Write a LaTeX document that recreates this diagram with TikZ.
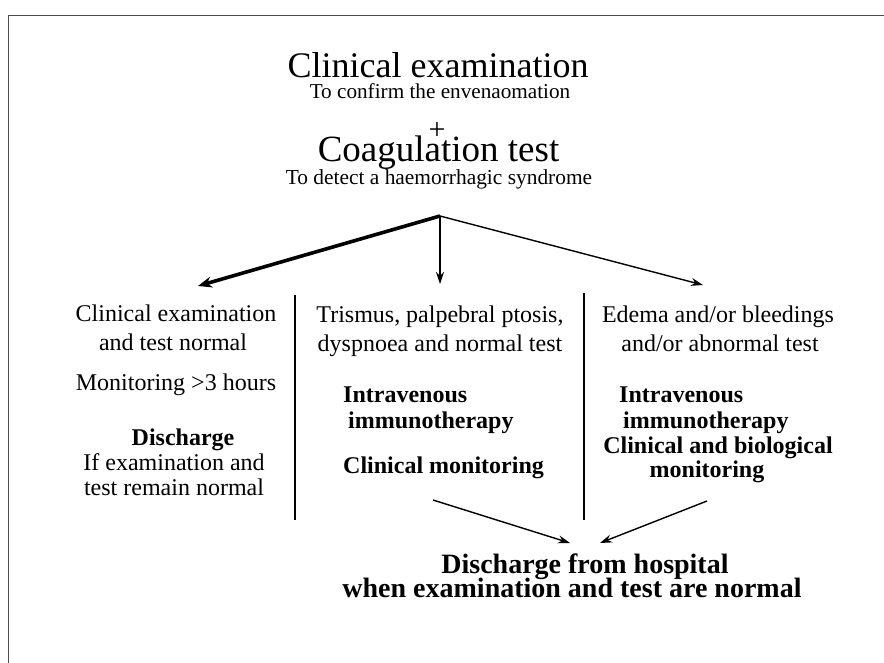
\documentclass[tikz,border=0pt]{standalone}
\usepackage{fontspec}
\setmainfont{Liberation Serif}
\usetikzlibrary{arrows.meta}
\begin{document}
\begin{tikzpicture}[x=1pt,y=-1pt,
  txt/.style={inner sep=0pt,anchor=base,font=\fontsize{24}{28}\selectfont},
  btxt/.style={inner sep=0pt,anchor=base west,font=\fontsize{24}{28}\selectfont\bfseries},
  bctxt/.style={inner sep=0pt,anchor=base,font=\fontsize{24}{28}\selectfont\bfseries},
  big/.style={inner sep=0pt,anchor=base,font=\fontsize{36}{40}\selectfont},
  sub/.style={inner sep=0pt,anchor=base,font=\fontsize{21.2}{24}\selectfont},
  fin/.style={inner sep=0pt,anchor=base,font=\fontsize{28}{32}\selectfont\bfseries},
  arr/.style={-{Stealth[length=12pt,width=8pt]},line width=1.4pt},
  thickarr/.style={-{Stealth[length=14pt,width=11pt]},line width=3.6pt},
  divider/.style={line width=1.4pt},
  frame/.style={line width=0.8pt,black!70}]
\useasboundingbox (0,0) rectangle (884,663);
\fill[white] (0,0) rectangle (884,663);
% frame (only top and left edges visible)
\coordinate (fa) at (884,15);
\coordinate (fb) at (8,15);
\coordinate (fc) at (8,663);
\draw[frame] (fa) -- (fb) -- (fc);
% header
\node[big] (t1) at (438,78) {Clinical examination};
\node[sub] (s1) at (440,98.5) {To confirm the envenaomation};
\node[inner sep=0pt,font=\fontsize{30}{32}\selectfont] (plus) at (437,131) {+};
\node[big,font=\fontsize{37}{40}\selectfont] (t2) at (438.5,162) {Coagulation test};
\node[sub,font=\fontsize{21.4}{24}\selectfont] (s2) at (439,185) {To detect a haemorrhagic syndrome};
% branching arrows
\coordinate (apex) at (440,216);
\coordinate (tl) at (198,286);
\coordinate (tm) at (440,284);
\coordinate (tr) at (703,285);
\draw[thickarr] (apex) -- (tl);
\draw[arr] (apex) -- (tm);
\draw[arr] (apex) -- (tr);
% left column
\node[txt] (l1) at (176,321) {Clinical examination};
\node[txt] (l2) at (173,350) {and test normal};
\node[txt] (l3) at (176,390) {Monitoring >3 hours};
\node[bctxt] (l4) at (183,445) {Discharge};
\node[txt] (l5) at (174,470) {If examination and};
\node[txt] (l6) at (174,495) {test remain normal};
% dividers
\coordinate (d1a) at (295,295);
\coordinate (d1b) at (295,520);
\coordinate (d2a) at (584,293);
\coordinate (d2b) at (584,520);
\draw[divider] (d1a) -- (d1b);
\draw[divider] (d2a) -- (d2b);
% middle column
\node[txt] (m1) at (440,322) {Trismus, palpebral ptosis,};
\node[txt] (m2) at (440,351) {dyspnoea and normal test};
\node[btxt] (m3) at (343,402) {Intravenous};
\node[btxt] (m4) at (348,428) {immunotherapy};
\node[btxt] (m5) at (343,473) {Clinical monitoring};
% right column
\node[txt] (r1) at (718,322) {Edema and/or bleedings};
\node[txt] (r2) at (720,351) {and/or abnormal test};
\node[btxt] (r3) at (619,402) {Intravenous};
\node[btxt] (r4) at (623,428) {immunotherapy};
\node[bctxt] (r5) at (718,453) {Clinical and biological};
\node[bctxt] (r6) at (707,477) {monitoring};
% final
\node[fin] (f1) at (585,573) {Discharge from hospital};
\node[fin] (f2) at (572,597) {when examination and test are normal};
\coordinate (am) at (433,500);
\coordinate (amt) at (570,543);
\coordinate (ar) at (707,501);
\coordinate (art) at (600,543);
\draw[arr] (am) -- (amt);
\draw[arr] (ar) -- (art);
\end{tikzpicture}
\end{document}
